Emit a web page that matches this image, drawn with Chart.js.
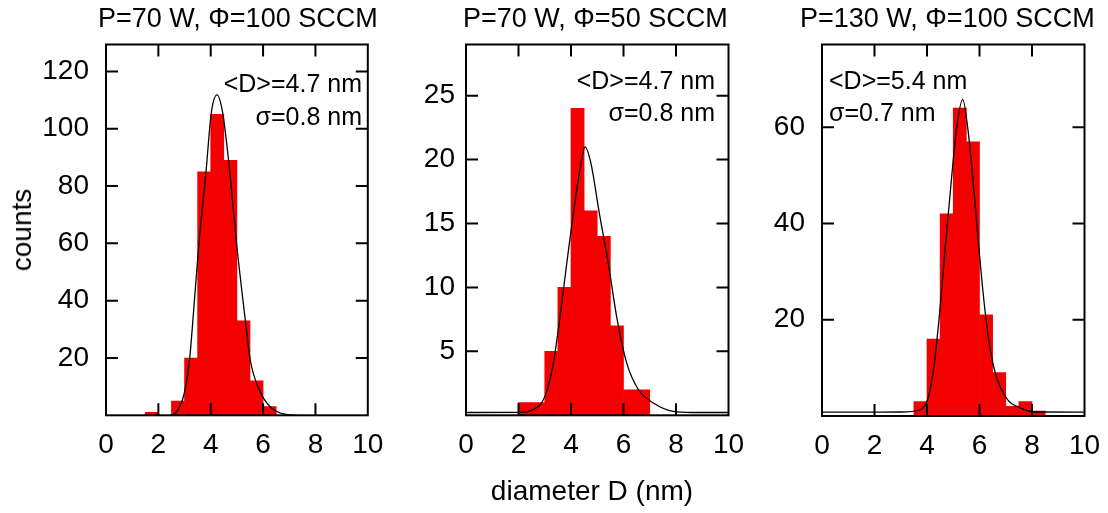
<!DOCTYPE html>
<html>
<head>
<meta charset="utf-8">
<script src="https://cdn.jsdelivr.net/npm/chart.js@4.4.1/dist/chart.umd.min.js"></script>
<style>
  html, body { margin: 0; padding: 0; background: #fff; }
  #page { position: relative; width: 1108px; height: 513px; overflow: hidden;
          font-family: 'Liberation Sans', Arial, sans-serif; color: #000; }
  canvas { position: absolute; top: 0; }
  .txt { position: absolute; white-space: nowrap; line-height: 1; }
  .title { font-size: 27px; top: 5px; }
  .note { font-size: 25px; }
</style>
</head>
<body>
<div id="page">
  <canvas id="h1"></canvas>
  <canvas id="h2"></canvas>
  <canvas id="h3"></canvas>

  <div class="txt title" style="left:98px">P=70 W, &Phi;=100 SCCM</div>
  <div class="txt title" style="left:463px">P=70 W, &Phi;=50 SCCM</div>
  <div class="txt title" style="left:800px">P=130 W, &Phi;=100 SCCM</div>

  <div class="txt note" style="right:746px; top:71px">&lt;D&gt;=4.7 nm</div>
  <div class="txt note" style="right:746px; top:104px">&sigma;=0.8 nm</div>
  <div class="txt note" style="right:393px; top:68px">&lt;D&gt;=4.7 nm</div>
  <div class="txt note" style="right:393px; top:100px">&sigma;=0.8 nm</div>
  <div class="txt note" style="left:829px; top:68px">&lt;D&gt;=5.4 nm</div>
  <div class="txt note" style="left:829px; top:100px">&sigma;=0.7 nm</div>

  <div class="txt" style="font-size:28px; left:22px; top:230px; transform:translate(-50%,-50%) rotate(-90deg)">counts</div>
  <div class="txt" style="font-size:28px; left:592px; top:491px; transform:translate(-50%,-50%)">diameter D (nm)</div>
</div>

<script>
const FONT = "'Liberation Sans', Arial, sans-serif";
const xTicks = [0, 2, 4, 6, 8, 10];

// P=70 W, Phi=100 SCCM  (bin centres, 0.5 nm wide)
const bins1 = [1.75, 2.25, 2.75, 3.25, 3.75, 4.25, 4.75, 5.25, 5.75, 6.25];
const counts1 = [1, 0, 5, 20, 85, 105, 89, 33, 12, 3];
const fitD1 = [2.45, 2.65, 2.99, 3.19, 3.34, 3.54, 3.82, 4.02, 4.24, 4.46, 4.68, 5.0, 5.32, 5.51, 5.86, 6.27, 7.03, 7.3];
const fitN1 = [0, 0.7, 7.7, 19.3, 35.6, 58.9, 85, 105.4, 111.8, 105.4, 89.1, 58.9, 33.3, 19.3, 8.8, 3.0, 0.1, 0];
const yTicks1 = [20, 40, 60, 80, 100, 120];

// P=70 W, Phi=50 SCCM
const bins2 = [2.25, 2.75, 3.25, 3.75, 4.25, 4.75, 5.25, 5.75, 6.25, 6.75];
const counts2 = [1, 1, 5, 10, 24, 16, 14, 7, 2, 2];
const fitD2 = [0, 2.06, 2.56, 3.01, 3.33, 3.58, 3.84, 4.09, 4.34, 4.54, 4.76, 5.08, 5.42, 5.74, 6.12, 6.57, 7.14, 7.9, 8.6, 10];
const fitN2 = [0.22, 0.23, 0.44, 1.5, 4.1, 7.7, 11.9, 15.8, 19.2, 21.0, 19.7, 15.8, 11.9, 7.7, 4.1, 2.0, 0.96, 0.3, 0.22, 0.22];
const yTicks2 = [5, 10, 15, 20, 25];

// P=130 W, Phi=100 SCCM
const bins3 = [3.75, 4.25, 4.75, 5.25, 5.75, 6.25, 6.75, 7.25, 7.75, 8.25];
const counts3 = [3, 16, 42, 64, 57, 21, 9, 2, 3, 1];
const fitD3 = [0, 2.98, 3.75, 4.06, 4.28, 4.48, 4.70, 4.93, 5.12, 5.36, 5.56, 5.75, 5.97, 6.22, 6.51, 6.98, 7.55, 8.19, 10];
const fitN3 = [0.8, 0.83, 1.3, 4.1, 11.0, 21.4, 35.3, 49.1, 59.5, 65.8, 59.5, 49.1, 35.3, 21.4, 11.0, 4.1, 1.7, 0.83, 0.8];
const yTicks3 = [20, 40, 60];

// box outline plus inward tick marks on all four sides
const frame = {
  id: 'frame',
  afterDatasetsDraw(chart) {
    const { ctx, chartArea: a, scales: { x, y } } = chart;
    const len = 12;
    ctx.save();
    ctx.strokeStyle = '#000';
    ctx.lineWidth = 2;
    ctx.beginPath();
    x.ticks.forEach(t => {
      const px = x.getPixelForValue(t.value);
      if (px <= a.left + 1 || px >= a.right - 1) return;
      ctx.moveTo(px, a.bottom); ctx.lineTo(px, a.bottom - len);
      ctx.moveTo(px, a.top); ctx.lineTo(px, a.top + len);
    });
    y.ticks.forEach(t => {
      const py = y.getPixelForValue(t.value);
      if (py <= a.top + 1 || py >= a.bottom - 1) return;
      ctx.moveTo(a.left, py); ctx.lineTo(a.left + len, py);
      ctx.moveTo(a.right, py); ctx.lineTo(a.right - len, py);
    });
    ctx.stroke();
    ctx.strokeRect(a.left, a.top, a.right - a.left, a.bottom - a.top);
    ctx.restore();
  }
};

function histChart(id, box, yMax, yTicks, bins, counts, fitD, fitN, labelGap) {
  const canvas = document.getElementById(id);
  const W = Math.round(box.right - box.left) + 130, H = 513;
  canvas.width = W;
  canvas.height = H;
  canvas.style.left = (box.left - 110) + 'px';

  new Chart(canvas, {
    data: {
      datasets: [
        {
          type: 'bar',
          data: bins.map((x, i) => ({ x: x, y: counts[i] })),
          backgroundColor: '#f40000',
          borderWidth: 0,
          barPercentage: 1,
          categoryPercentage: 1,
          order: 2
        },
        {
          type: 'line',
          data: fitD.map((x, i) => ({ x: x, y: fitN[i] })),
          borderColor: '#000',
          borderWidth: 1.3,
          pointRadius: 0,
          cubicInterpolationMode: 'monotone',
          fill: false,
          order: 1
        }
      ]
    },
    options: {
      responsive: false,
      animation: false,
      layout: { padding: { left: 0, right: W - 110 - (box.right - box.left), top: box.top, bottom: H - box.bottom - 60 } },
      plugins: { legend: { display: false }, tooltip: { enabled: false } },
      scales: {
        x: {
          type: 'linear', min: 0, max: 10, offset: false,
          grid: { display: false, drawTicks: false, offset: false },
          border: { display: false },
          afterBuildTicks: s => { s.ticks = xTicks.map(v => ({ value: v })); },
          afterFit: s => { s.height = 60; s.paddingLeft = 0; s.paddingRight = 0; },
          ticks: { color: '#000', font: { family: FONT, size: 28 }, padding: 13, maxRotation: 0, autoSkip: false }
        },
        y: {
          type: 'linear', min: 0, max: yMax,
          grid: { display: false, drawTicks: false },
          border: { display: false },
          afterBuildTicks: s => { s.ticks = yTicks.map(v => ({ value: v })); },
          afterFit: s => { s.width = 110; s.paddingTop = 0; s.paddingBottom = 0; },
          ticks: { color: '#000', font: { family: FONT, size: 28 }, padding: labelGap, autoSkip: false }
        }
      }
    },
    plugins: [frame]
  });
}

histChart('h1', { left: 105.7, right: 367.5, top: 44.5, bottom: 415.3 }, 129.4, yTicks1, bins1, counts1, fitD1, fitN1, 17);
histChart('h2', { left: 465.8, right: 728.3, top: 44.5, bottom: 415.3 }, 29.0, yTicks2, bins2, counts2, fitD2, fitN2, 11);
histChart('h3', { left: 821.7, right: 1084.2, top: 44.5, bottom: 416.0 }, 77.2, yTicks3, bins3, counts3, fitD3, fitN3, 17);
</script>
</body>
</html>
